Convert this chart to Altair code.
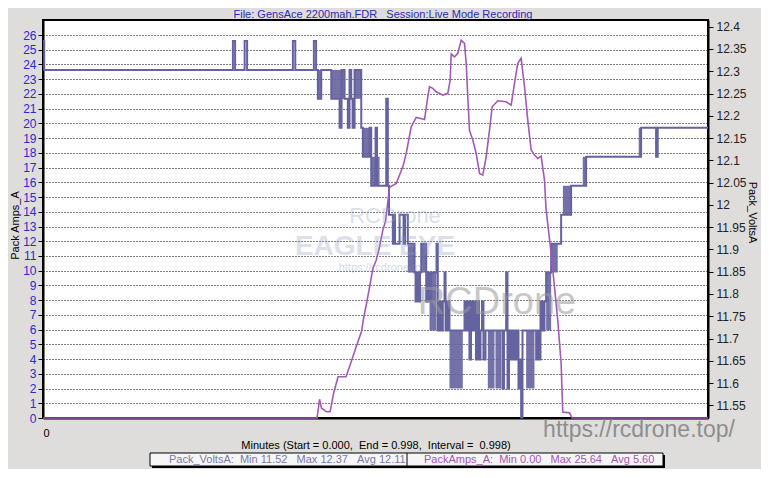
import altair as alt
import pandas as pd

# ---------------- data ----------------
# PackAmps_A (left axis), time in minutes
amps_t = [0.0, 0.4113, 0.415, 0.418, 0.4256, 0.4308, 0.4361, 0.4428, 0.4548, 0.46,
          0.4698, 0.4751, 0.4781, 0.4811, 0.4856, 0.4901, 0.495, 0.5001, 0.5051, 0.51,
          0.5141, 0.5201, 0.5301, 0.54, 0.5451, 0.5526, 0.5601, 0.5726, 0.5775, 0.5801,
          0.585, 0.5901, 0.6, 0.6075, 0.6111, 0.6126, 0.6176, 0.6225, 0.6276, 0.6326,
          0.6351, 0.6375, 0.64, 0.645, 0.6501, 0.6551, 0.66, 0.6651, 0.6701, 0.6741,
          0.6825, 0.6951, 0.7026, 0.7076, 0.7125, 0.7176, 0.7226, 0.7275, 0.7326, 0.7376,
          0.7425, 0.7476, 0.7526, 0.7551, 0.7586, 0.7626, 0.7676, 0.7725, 0.7776, 0.78,
          0.7901, 0.7941, 0.998]
amps_v = [0.0, 0.0, 1.27, 0.66, 0.42, 0.42, 1.68, 2.80, 2.80, 3.48,
          4.80, 5.50, 5.89, 6.77, 7.79, 8.88, 10.15, 10.71, 11.62, 12.75,
          13.36, 15.67, 15.92, 17.05, 17.96, 19.77, 20.41, 20.27, 21.81, 22.49,
          22.38, 22.15, 21.92, 22.04, 22.94, 24.71, 24.52, 24.76, 25.64, 25.43,
          24.08, 21.81, 19.54, 18.87, 17.96, 16.60, 16.49, 17.73, 19.54, 21.13,
          21.54, 21.47, 21.24, 22.72, 24.08, 24.42, 22.49, 20.22, 18.19, 17.85,
          17.62, 17.78, 16.15, 14.11, 12.75, 11.17, 8.90, 6.64, 3.70, 0.41,
          0.35, 0.0, 0.0]

# Pack_VoltsA (right axis), stepped trace
volts_t = [0.0, 0.0018, 0.285, 0.2883, 0.3026, 0.3063, 0.375, 0.3786, 0.4065, 0.4098,
           0.4125, 0.4176, 0.4326, 0.4451, 0.4481, 0.4526, 0.4575, 0.46, 0.4626, 0.4646,
           0.4676, 0.4776, 0.48, 0.4901, 0.4926, 0.4991, 0.5013, 0.5151, 0.5175, 0.5193,
           0.525, 0.5268, 0.5283, 0.5351, 0.5411, 0.5433, 0.5475, 0.5576, 0.5591, 0.5613,
           0.5636, 0.5658, 0.5676, 0.5751, 0.577, 0.5793, 0.5826, 0.5906, 0.5925, 0.5951,
           0.5973, 0.6, 0.6026, 0.6041, 0.6071, 0.61, 0.6326, 0.6348, 0.6375, 0.64,
           0.6423, 0.645, 0.6476, 0.6498, 0.652, 0.6543, 0.6566, 0.6588, 0.661, 0.6641,
           0.6896, 0.6918, 0.6951, 0.6971, 0.6993, 0.7016, 0.7046, 0.7076, 0.7106, 0.7136,
           0.7158, 0.7176, 0.7196, 0.7401, 0.7421, 0.7443, 0.7466, 0.7496, 0.7526, 0.7551,
           0.7626, 0.7776, 0.7926, 0.8151, 0.8976, 0.9201, 0.9225, 0.998]
volts_v = [12.368, 12.303, 12.368, 12.303, 12.368, 12.303, 12.368, 12.303, 12.368, 12.303,
           12.238, 12.303, 12.238, 12.173, 12.303, 12.238, 12.173, 12.303, 12.238, 12.173,
           12.303, 12.173, 12.108, 12.173, 12.043, 12.173, 12.043, 12.238, 12.043, 11.978,
           11.913, 11.978, 11.913, 11.978, 11.913, 11.978, 11.913, 11.848, 11.783, 11.848,
           11.783, 11.848, 11.913, 11.783, 11.848, 11.783, 11.848, 11.913, 11.718, 11.783,
           11.718, 11.783, 11.848, 11.718, 11.783, 11.718, 11.783, 11.718, 11.783, 11.653,
           11.783, 11.718, 11.783, 11.653, 11.783, 11.653, 11.718, 11.783, 11.653, 11.718,
           11.588, 11.718, 11.848, 11.588, 11.718, 11.653, 11.718, 11.653, 11.718, 11.588,
           11.653, 11.523, 11.718, 11.653, 11.718, 11.653, 11.783, 11.718, 11.783, 11.848,
           11.913, 11.978, 12.043, 12.108, 12.173, 12.108, 12.173, 12.173]

# dense toggling bursts of the voltage trace: start, end, upper level, lower level
burst_t1 = [0.4125, 0.4326, 0.4676, 0.48, 0.4926, 0.5475, 0.5676, 0.5801, 0.61,
            0.6676, 0.679, 0.7251, 0.7551, 0.7626, 0.7802, 0.81, 0.894]
burst_t2 = [0.4176, 0.4526, 0.4776, 0.4901, 0.5051, 0.5576, 0.5751, 0.5906, 0.63,
            0.6776, 0.6876, 0.7376, 0.7626, 0.7725, 0.7926, 0.8151, 0.8976]
burst_hi = [12.303, 12.303, 12.303, 12.173, 12.108, 11.913, 11.913, 11.848, 11.718,
            11.718, 11.718, 11.718, 11.848, 11.913, 12.043, 12.108, 12.173]
burst_lo = [12.238, 12.238, 12.238, 12.108, 12.043, 11.848, 11.848, 11.718, 11.588,
            11.588, 11.588, 11.588, 11.718, 11.848, 11.978, 12.043, 12.108]

amp_ticks = list(range(0, 27))
volt_ticks = [11.55, 11.6, 11.65, 11.7, 11.75, 11.8, 11.85, 11.9, 11.95, 12.0,
              12.05, 12.1, 12.15, 12.2, 12.25, 12.3, 12.35, 12.4]

volts_stats = ["11.52", "12.37", "12.11"]
amps_stats = ["0.00", "25.64", "5.60"]

NB = "\u00a0"
title_text = "File: GensAce 2200mah.FDR" + NB * 3 + "Session:Live Mode Recording"
x_title = ("Minutes (Start = 0.000," + NB * 2 + "End = 0.998," + NB * 2
           + "Interval =" + NB * 2 + "0.998)")

# ---------------- styles ----------------
FONT = "Liberation Sans"
VOLT_COL = "#64629f"
AMP_COL = "#a25ab6"
W, H = 665, 398

amps_df = pd.DataFrame({"t": amps_t, "a": amps_v})
volts_df = pd.DataFrame({"t": volts_t, "v": volts_v})
burst_df = pd.DataFrame({"t1": burst_t1, "t2": burst_t2, "hi": burst_hi, "lo": burst_lo})

x_scale = alt.Scale(domain=[0, 0.998], nice=False, zero=False)
x_axis = alt.Axis(values=[0], title=x_title, ticks=False, labelPadding=9,
                  labelFontSize=11, labelColor="#000000", labelFont=FONT,
                  titleFont=FONT, titleFontSize=11, titleFontWeight="normal",
                  titleColor="#000000", titleY=27, titleBaseline="middle",
                  domainColor="#000000", domainWidth=2, grid=False)
x_enc = alt.X("t:Q", scale=x_scale, axis=x_axis)

volt_scale = alt.Scale(domain=[11.5216, 12.415], nice=False, zero=False)
volt_axis = alt.Axis(orient="right", values=volt_ticks, format=".4~r", grid=False,
                     title="Pack_VoltsA", titleFont=FONT, titleFontSize=11,
                     titleFontWeight="normal", titleColor="#000000",
                     titleX=43, titleY=192, titleAngle=90, titleAlign="center",
                     titleBaseline="middle",
                     labelFont=FONT, labelFontSize=12, labelColor="#222222",
                     labelPadding=3, tickSize=5, tickColor="#000000",
                     domainColor="#000000", domainWidth=2)

amp_axis = alt.Axis(orient="left", values=amp_ticks, grid=True, gridColor="#000000",
                    gridDash=[1, 2], gridWidth=1, gridOpacity=1,
                    title="Pack Amps_A", titleFont=FONT, titleFontSize=11,
                    titleFontWeight="normal", titleColor="#000000",
                    titleX=-28, titleY=205, titleAngle=-90, titleAlign="center",
                    titleBaseline="middle",
                    labelFont=FONT, labelFontSize=12, labelColor="#2a2ad0",
                    labelPadding=2, tickSize=5, tickColor="#000000",
                    domainColor="#000000", domainWidth=2)

bursts = alt.Chart(burst_df).mark_rect(color=VOLT_COL, opacity=0.9).encode(
    x=alt.X("t1:Q", scale=x_scale, axis=x_axis),
    x2="t2:Q",
    y=alt.Y("hi:Q", scale=volt_scale, axis=volt_axis),
    y2="lo:Q",
)
volts_line = alt.Chart(volts_df).mark_line(
    color=VOLT_COL, strokeWidth=2, interpolate="step-after").encode(
    x=x_enc,
    y=alt.Y("v:Q", scale=volt_scale, axis=volt_axis),
)
volts_layer = alt.layer(bursts, volts_line)

amps_line = alt.Chart(amps_df).mark_line(color=AMP_COL, strokeWidth=1.6).encode(
    x=x_enc,
    y=alt.Y("a:Q", scale=alt.Scale(domain=[0, 27.02], nice=False), axis=amp_axis),
)

one = pd.DataFrame({"k": [0]})


def label(text, x, y, size=11, color="#000000", align="center", weight="normal",
          opacity=1.0, font=FONT):
    return alt.Chart(one).mark_text(
        text=text, fontSize=size, color=color, align=align, baseline="middle",
        fontWeight=weight, opacity=opacity, font=font,
    ).encode(x=alt.value(x), y=alt.value(y))


title_mark = label(title_text, 340, -5, size=11, color="#2b2bb0")

# legend box with shadow
shadow = alt.Chart(one).mark_rect(color="#000000").encode(
    x=alt.value(109), x2=alt.value(622), y=alt.value(435), y2=alt.value(448))
box = alt.Chart(one).mark_rect(fill="#f6f6f6", stroke="#000000", strokeWidth=1).encode(
    x=alt.value(107), x2=alt.value(620), y=alt.value(433), y2=alt.value(446))
divider = alt.Chart(one).mark_rule(color="#000000").encode(
    x=alt.value(364), y=alt.value(433), y2=alt.value(446))
leg1 = label("Pack_VoltsA:" + NB * 2 + "Min %s" % volts_stats[0] + NB * 3
             + "Max %s" % volts_stats[1] + NB * 3 + "Avg %s" % volts_stats[2],
             126, 440, size=11, color="#7a78aa", align="left")
leg2 = label("PackAmps_A:" + NB * 2 + "Min %s" % amps_stats[0] + NB * 3
             + "Max %s" % amps_stats[1] + NB * 3 + "Avg %s" % amps_stats[2],
             381, 440, size=11, color="#a454b4", align="left")

# watermarks present on the reference image
wm1 = label("RCDrone", 352, 196, size=22, color="#9aa6c4", opacity=0.35)
wm2 = label("EAGLE EYE", 332, 227, size=28, color="#8f9cc0", weight="bold", opacity=0.3)
wm3 = label("https://rcdrone.top", 340, 248, size=11, color="#8090b0", opacity=0.35)
wm4 = label("RCDrone", 454, 283, size=38, color="#9a9a9a", opacity=0.55)
wm5 = label("https://rcdrone.top/", 596, 410, size=23, color="#8a8a8a", opacity=0.95)

chart = alt.layer(
    volts_layer, amps_line, title_mark, wm1, wm2, wm3, wm4,
    shadow, box, divider, leg1, leg2, wm5,
).resolve_scale(y="independent").properties(
    width=W, height=H,
    autosize=alt.AutoSizeParams(type="none"),
    padding={"left": 35, "top": 12, "right": 53, "bottom": 51},
    background="#dedddb",
).configure_view(
    fill="#ffffff", stroke="#000000", strokeWidth=2,
)

chart.save("out.html", embed_options={"renderer": "svg", "actions": False})
